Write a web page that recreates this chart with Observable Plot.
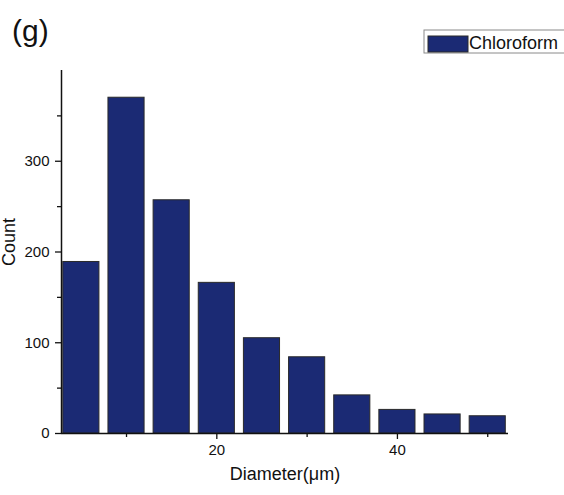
<!DOCTYPE html>
<html>
<head>
<meta charset="utf-8">
<script src="https://cdn.jsdelivr.net/npm/d3@7"></script>
<script src="https://cdn.jsdelivr.net/npm/@observablehq/plot@0.6"></script>
<style>
  html, body { margin: 0; padding: 0; background: #fff; overflow: hidden; }
  #chart svg { display: block; }
  #chart g[aria-label$="tick label"] text { font-size: 15px; }
</style>
</head>
<body>
<div id="chart"></div>
<script>
// Droplet diameter histogram (bin centres in µm) and counts per bin
const binCenters = [5, 10, 15, 20, 25, 30, 35, 40, 45, 50];
const counts = [189, 370, 257, 166, 105, 84, 42, 26, 21, 19];
const seriesName = "Chloroform";
const panelTag = "(g)";
const xLabel = "Diameter(\u03bcm)";
const yLabel = "Count";
const yMajorTicks = [0, 100, 200, 300];
const yMinorTicks = [50, 150, 250, 350];
const xMajorTicks = [20, 40];
const xMinorTicks = [10, 30, 50];

const bins = binCenters.map((c, i) => ({center: c, count: counts[i]}));
const barHalf = 2; // bars are 4 µm wide inside 5 µm bins
const fillColor = "#1b2a74";
const font = "'Liberation Sans', Arial, Helvetica, sans-serif";

const svg = Plot.plot({
  width: 564,
  height: 495,
  marginLeft: 61,
  marginRight: 56,
  marginTop: 70,
  marginBottom: 62,
  style: {fontFamily: font, fontSize: "15px", color: "#111", background: "#fff"},
  x: {domain: [2.8, 52.3]},
  y: {domain: [0, 400]},
  marks: [
    Plot.rectY(bins, {
      x1: d => d.center - barHalf,
      x2: d => d.center + barHalf,
      y: "count",
      fill: fillColor,
      stroke: "#2a2a2a",
      strokeWidth: 1
    }),
    Plot.axisY({ticks: yMajorTicks, tickSize: 6, tickPadding: 6, fontSize: 15, strokeWidth: 1.3, label: null}),
    Plot.axisY({ticks: yMinorTicks, tickSize: 4, tickFormat: () => "", strokeWidth: 1.3, label: null}),
    Plot.axisX({ticks: xMajorTicks, tickSize: 6, tickPadding: 5, fontSize: 15, strokeWidth: 1.3, label: null}),
    Plot.axisX({ticks: xMinorTicks, tickSize: 4, tickFormat: () => "", strokeWidth: 1.3, label: null}),
    Plot.ruleY([0], {strokeWidth: 1.5, stroke: "#111"}),
    Plot.ruleX([2.8], {strokeWidth: 1.5, stroke: "#111"}),
    Plot.text([xLabel], {frameAnchor: "bottom", dy: 46, fontSize: 18, fill: "#111"}),
    Plot.text([yLabel], {frameAnchor: "left", dx: -52, dy: 14, rotate: -90, fontSize: 18, fill: "#111"})
  ]
});

document.getElementById("chart").appendChild(svg);

// Panel tag and legend drawn on top of the plot's SVG
const s = d3.select(svg);
s.append("text")
  .attr("x", 12).attr("y", 41)
  .attr("text-anchor", "start")
  .attr("font-size", 30).attr("font-family", font).attr("fill", "#111")
  .text(panelTag);

const legend = s.append("g").attr("text-anchor", "start");
legend.append("rect")
  .attr("x", 424).attr("y", 30).attr("width", 150).attr("height", 23)
  .attr("fill", "#fff").attr("stroke", "#8a8a8a").attr("stroke-width", 1);
legend.append("rect")
  .attr("x", 428).attr("y", 36).attr("width", 40).attr("height", 16)
  .attr("fill", fillColor).attr("stroke", "#2a2a2a").attr("stroke-width", 1);
legend.append("text")
  .attr("x", 469).attr("y", 48.5)
  .attr("font-size", 18).attr("font-family", font).attr("fill", "#111")
  .text(seriesName);
</script>
</body>
</html>
